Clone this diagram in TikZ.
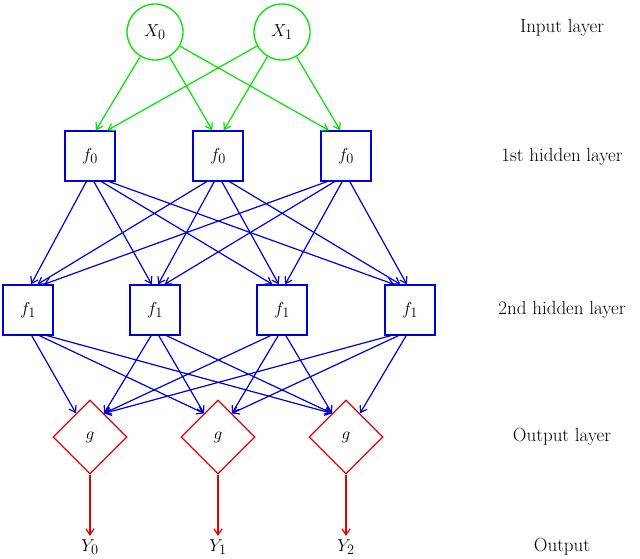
\documentclass[tikz,border=0pt]{standalone}
\usetikzlibrary{shapes.geometric,arrows.meta,calc}
\begin{document}
\begin{tikzpicture}[x=1pt,y=-1pt,
  every node/.style={font=\fontsize{19}{23}\selectfont},
  inp/.style={circle,draw=green!90!black,line width=1.3pt,minimum size=56pt,inner sep=0pt},
  hid/.style={rectangle,draw=blue!85!black,line width=1.3pt,minimum size=50pt,inner sep=0pt},
  outn/.style={diamond,draw=red!90!black,line width=1.3pt,minimum size=74pt,inner sep=0pt},
  lab/.style={anchor=center},
  ga/.style={draw=green!90!black,line width=1.2pt,-{Straight Barb[length=6pt,width=8pt]}},
  ba/.style={draw=blue!85!black,line width=1.2pt,-{Straight Barb[length=6pt,width=8pt]}},
  ra/.style={draw=red!90!black,line width=1.2pt,-{Straight Barb[length=6pt,width=8pt]}}]
\useasboundingbox (0,0) rectangle (640,558);
\node[inp] (x0) at (155,32) {$X_0$};
\node[inp] (x1) at (282,32) {$X_1$};
\foreach \i/\x in {0/90,1/218,2/346} \node[hid] (a\i) at (\x,156) {$f_0$};
\foreach \i/\x in {0/28,1/155,2/282,3/410} \node[hid] (b\i) at (\x,310) {$f_1$};
\foreach \i/\x in {0/90,1/218,2/346} \node[outn] (c\i) at (\x,437) {$g$};
\foreach \i/\x in {0/90,1/218,2/346} \node (y\i) at (\x,547) {$Y_\i$};
\node[lab] (l0) at (562,28) {Input layer};
\node[lab] (l1) at (562,157) {1st hidden layer};
\node[lab] (l2) at (562,310) {2nd hidden layer};
\node[lab] (l3) at (562,437) {Output layer};
\node[lab] (l4) at (562,547) {Output};
\foreach \s/\sx in {x0/155,x1/282} \foreach \t/\tx in {a0/90,a1/218,a2/346} {
  \pgfmathsetmacro\eo{(\sx-\tx)*0.09}
  \draw[ga] (\s) -- ($(\t.north)+(\eo,0)$);}
\foreach \s/\sx in {a0/90,a1/218,a2/346} \foreach \t/\tx in {b0/28,b1/155,b2/282,b3/410} {
  \pgfmathsetmacro\so{(\tx-\sx)*0.06}
  \pgfmathsetmacro\eo{(\sx-\tx)*0.05}
  \draw[ba] ($(\s.south)+(\so,0)$) -- ($(\t.north)+(\eo,0)$);}
\foreach \s/\sx in {b0/28,b1/155,b2/282,b3/410} \foreach \t/\tx in {c0/90,c1/218,c2/346} {
  \pgfmathsetmacro\so{(\tx-\sx)*0.06}
  \pgfmathsetmacro\eo{sign(\sx-\tx)*14}
  \pgfmathsetmacro\ey{abs(\eo)}
  \draw[ba] ($(\s.south)+(\so,0)$) -- ($(\t.north)+(\eo,\ey)$);}
\foreach \i in {0,1,2} \draw[ra] (c\i) -- (y\i);
\end{tikzpicture}
\end{document}
